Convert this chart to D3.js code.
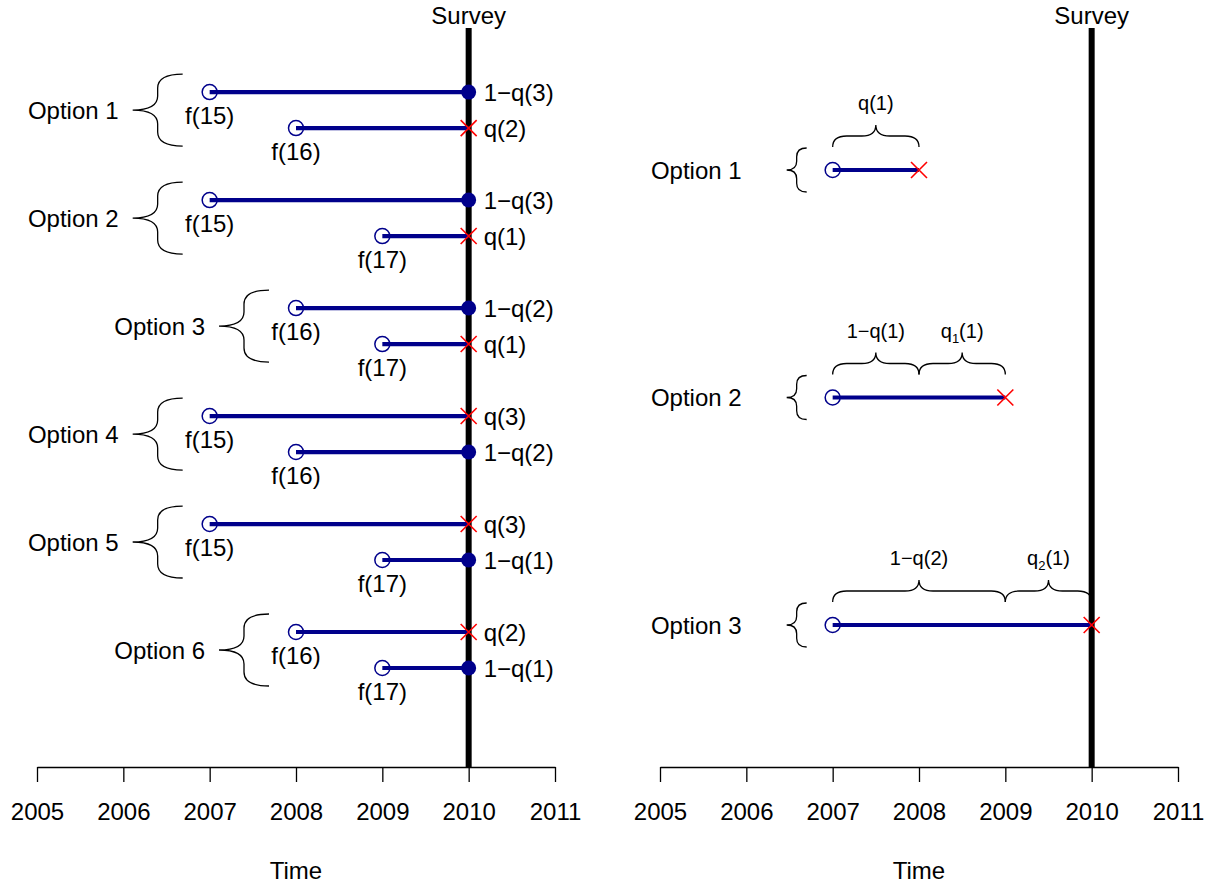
<!DOCTYPE html>
<html>
<head>
<meta charset="utf-8">
<script src="https://cdn.jsdelivr.net/npm/d3@7"></script>
<style>
  body { margin: 0; background: #fff; }
  text { font-family: "Liberation Sans", Arial, Helvetica, sans-serif; fill: #000; }
</style>
</head>
<body>
<svg id="chart" width="1211" height="884"></svg>
<script>
// axis years and survey
const years = [2005, 2006, 2007, 2008, 2009, 2010, 2011];
const surveyYear = 2010;

// left panel: two histories per option
const leftOptions = ["Option 1", "Option 2", "Option 3", "Option 4", "Option 5", "Option 6"];
const leftStarts = [[2007, 2008], [2007, 2009], [2008, 2009], [2007, 2008], [2007, 2009], [2008, 2009]];
const leftStartLabels = [["f(15)", "f(16)"], ["f(15)", "f(17)"], ["f(16)", "f(17)"],
                         ["f(15)", "f(16)"], ["f(15)", "f(17)"], ["f(16)", "f(17)"]];
const leftOutcomes = [["alive", "dead"], ["alive", "dead"], ["alive", "dead"],
                      ["dead", "alive"], ["dead", "alive"], ["dead", "alive"]];
const leftEndLabels = [["1−q(3)", "q(2)"], ["1−q(3)", "q(1)"], ["1−q(2)", "q(1)"],
                       ["q(3)", "1−q(2)"], ["q(3)", "1−q(1)"], ["q(2)", "1−q(1)"]];

// right panel: one history per option, with braces above
const rightOptions = ["Option 1", "Option 2", "Option 3"];
const rightStarts = [2007, 2007, 2007];
const rightEnds = [2008, 2009, 2010];
const rightSpans = [[[2007, 2008]], [[2007, 2008], [2008, 2009]], [[2007, 2009], [2009, 2010]]];
const rightSpanLabels = [["q(1)"], ["1−q(1)", "q_1(1)"], ["1−q(2)", "q_2(1)"]];

const svg = d3.select("#chart");
const TOP = 28, BOTTOM = 767;
const BLUE = "#00008B";
const BIG = 24, SMALL = 20;

const xL = d3.scaleLinear().domain([2005, 2011]).range([37, 555]);
const xR = d3.scaleLinear().domain([2005, 2011]).range([660, 1178]);
const yL = d3.scaleLinear().domain([-1.78, 18.75]).range([TOP, BOTTOM]);
const yR = d3.scaleLinear().domain([0.376, 3.624]).range([TOP, BOTTOM]);

function vBrace(g, e, y0, y1, w) {
  const s = e - w / 2, t = e - w, ym = (y0 + y1) / 2;
  const q = Math.min(14, (y1 - y0) / 2 * 0.4);
  g.append("path")
    .attr("d", `M${e},${y0} Q${s},${y0} ${s},${y0 + q} L${s},${ym - q} Q${s},${ym} ${t},${ym}
                Q${s},${ym} ${s},${ym + q} L${s},${y1 - q} Q${s},${y1} ${e},${y1}`)
    .attr("fill", "none").attr("stroke", "#000").attr("stroke-width", 1.3);
}

function hBrace(g, x0, x1, e, h) {
  const s = e - h / 2, t = e - h, xm = (x0 + x1) / 2;
  const q = Math.min(14, (x1 - x0) / 2 * 0.35);
  g.append("path")
    .attr("d", `M${x0},${e} Q${x0},${s} ${x0 + q},${s} L${xm - q},${s} Q${xm},${s} ${xm},${t}
                Q${xm},${s} ${xm + q},${s} L${x1 - q},${s} Q${x1},${s} ${x1},${e}`)
    .attr("fill", "none").attr("stroke", "#000").attr("stroke-width", 1.3);
}

function label(g, x, y, str, size, anchor) {
  const t = g.append("text").attr("x", x).attr("y", y + size * 0.36)
    .attr("text-anchor", anchor).style("font-size", size + "px");
  const m = str.match(/^(.*)_(\d)(.*)$/);
  if (m) {
    t.append("tspan").text(m[1]);
    t.append("tspan").attr("dy", size * 0.25).style("font-size", (size * 0.65) + "px").text(m[2]);
    t.append("tspan").attr("dy", -size * 0.25).text(m[3]);
  } else t.text(str);
}

function marker(g, x, y, kind) {
  if (kind === "start") {
    g.append("circle").attr("cx", x).attr("cy", y).attr("r", 7.5)
      .attr("fill", "none").attr("stroke", BLUE).attr("stroke-width", 1.5);
  } else if (kind === "alive") {
    g.append("circle").attr("cx", x).attr("cy", y).attr("r", 7.5).attr("fill", BLUE);
  } else {
    const d = 8;
    g.append("path").attr("d", `M${x - d},${y - d}L${x + d},${y + d}M${x - d},${y + d}L${x + d},${y - d}`)
      .attr("stroke", "#FF0000").attr("stroke-width", 1.6);
  }
}

function frame(x) {
  const g = svg.append("g");
  g.append("g").attr("transform", `translate(0,${BOTTOM})`)
    .call(d3.axisBottom(x).tickValues(years).tickFormat(d3.format("d")).tickSize(15).tickSizeOuter(0).tickPadding(0))
    .call(a => {
      a.select(".domain").attr("stroke", "#000").attr("stroke-width", 1.3);
      a.selectAll(".tick line").attr("stroke", "#000").attr("stroke-width", 1.3);
      a.selectAll(".tick text").attr("y", 44 + BIG * 0.36).attr("dy", null)
        .style("font-size", BIG + "px").attr("font-family", null).attr("fill", "#000");
    });
  label(g, (x(2005) + x(2011)) / 2, 870, "Time", BIG, "middle");
  g.append("line").attr("x1", x(surveyYear)).attr("x2", x(surveyYear)).attr("y1", TOP).attr("y2", BOTTOM)
    .attr("stroke", "#000").attr("stroke-width", 6);
  label(g, x(surveyYear), 15, "Survey", BIG, "middle");
  return g;
}

// left panel
const gL = frame(xL);
leftOptions.forEach((opt, i) => {
  const rows = [yL(i * 3), yL(i * 3 + 1)];
  const x0 = xL(d3.min(leftStarts[i]));
  label(gL, x0 - 91, (rows[0] + rows[1]) / 2, opt, BIG, "end");
  vBrace(gL, x0 - 27, rows[0] - 18, rows[1] + 18, 50);
  leftStarts[i].forEach((st, j) => {
    const y = rows[j], xs = xL(st), xe = xL(surveyYear);
    gL.append("line").attr("x1", xs).attr("x2", xe).attr("y1", y).attr("y2", y)
      .attr("stroke", BLUE).attr("stroke-width", 4.2);
    marker(gL, xs, y, "start");
    marker(gL, xe, y, leftOutcomes[i][j]);
    label(gL, xs, y + 23, leftStartLabels[i][j], BIG, "middle");
    label(gL, xe + 15, y, leftEndLabels[i][j], BIG, "start");
  });
});

// right panel
const gR = frame(xR);
rightOptions.forEach((opt, i) => {
  const y = yR(i + 1), xs = xR(rightStarts[i]), xe = xR(rightEnds[i]);
  label(gR, xs - 91, y, opt, BIG, "end");
  vBrace(gR, xs - 26, y - 22, y + 22, 20);
  gR.append("line").attr("x1", xs).attr("x2", xe).attr("y1", y).attr("y2", y)
    .attr("stroke", BLUE).attr("stroke-width", 4.2);
  marker(gR, xs, y, "start");
  marker(gR, xe, y, "dead");
  rightSpans[i].forEach((sp, j) => {
    hBrace(gR, xR(sp[0]), xR(sp[1]), y - 23, 22);
    label(gR, (xR(sp[0]) + xR(sp[1])) / 2, y - 67, rightSpanLabels[i][j], SMALL, "middle");
  });
});
</script>
</body>
</html>
